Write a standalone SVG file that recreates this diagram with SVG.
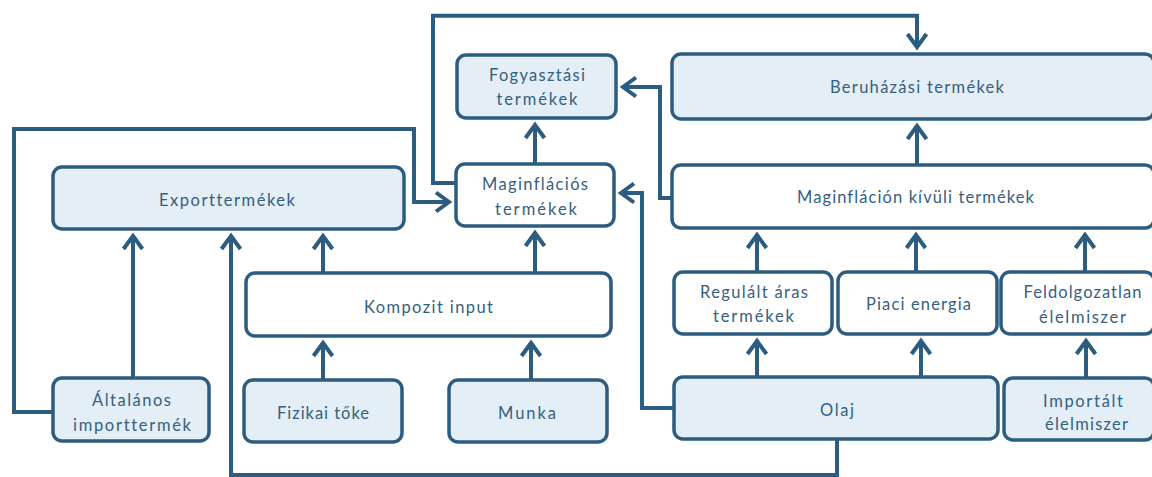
<svg xmlns="http://www.w3.org/2000/svg" width="1152" height="477" viewBox="0 0 1152 477">
<style>
.box{stroke:#2c5c7f;stroke-width:3.5;}
.lt{fill:#e3eef6;}
.wh{fill:#ffffff;}
.c{fill:none;stroke:#2c5c7f;stroke-width:4;marker-end:url(#ah);}
text{font-family:Lato,"Liberation Sans",sans-serif;font-size:16.5px;fill:#36607f;text-anchor:middle;font-variant-ligatures:none;font-feature-settings:"liga" 0;}
</style>
<defs>
<marker id="ah" markerUnits="userSpaceOnUse" markerWidth="24" markerHeight="28" refX="18" refY="14" orient="auto" overflow="visible">
<path d="M5 4.5 L18 14 L5 23.5" fill="none" stroke="#2c5c7f" stroke-width="4"/>
</marker>
</defs>
<rect width="1152" height="477" fill="#ffffff"/>
<g id="connectors">
<path class="c" d="M456 183 H433 V15.7 H917 V47"/>
<path class="c" d="M53 412 H14 V129 H414 V202 H449"/>
<path class="c" d="M133 378 V236"/>
<path class="c" d="M837 439 V475 H231 V236"/>
<path class="c" d="M323 273 V236"/>
<path class="c" d="M535 273 V233"/>
<path class="c" d="M535 164 V125"/>
<path class="c" d="M323 380 V343"/>
<path class="c" d="M531 380 V343"/>
<path class="c" d="M672 198 H660 V87 H623"/>
<path class="c" d="M674 408 H642 V193 H621"/>
<path class="c" d="M917 165 V126"/>
<path class="c" d="M757 272 V235"/>
<path class="c" d="M916 272 V235"/>
<path class="c" d="M1085 272 V235"/>
<path class="c" d="M757 377 V341"/>
<path class="c" d="M921 377 V341"/>
<path class="c" d="M1086 378 V341"/>
</g>
<g id="fogyasztasi">
<rect class="box lt" x="457" y="55" width="159" height="63" rx="9"/>
<text x="537" y="81" textLength="96" lengthAdjust="spacing">Fogyasztási</text>
<text x="537" y="105" textLength="81" lengthAdjust="spacing">termékek</text>
</g>
<g id="beruhazasi">
<rect class="box lt" x="672" y="54" width="482" height="65" rx="9"/>
<text x="917" y="93" textLength="174" lengthAdjust="spacing">Beruházási termékek</text>
</g>
<g id="maginflacios">
<rect class="box wh" x="456" y="164" width="158" height="62" rx="9"/>
<text x="535" y="190" textLength="106" lengthAdjust="spacing">Maginflációs</text>
<text x="536" y="215" textLength="82" lengthAdjust="spacing">termékek</text>
</g>
<g id="maginflacion-kivuli">
<rect class="box wh" x="672" y="165" width="482" height="63" rx="9"/>
<text x="915.5" y="203" textLength="237" lengthAdjust="spacing">Maginfláción kívüli termékek</text>
</g>
<g id="export">
<rect class="box lt" x="53" y="167" width="351" height="62" rx="9"/>
<text x="227" y="206" textLength="136" lengthAdjust="spacing">Exporttermékek</text>
</g>
<g id="kompozit">
<rect class="box wh" x="246" y="273" width="365" height="63" rx="9"/>
<text x="428.5" y="313" textLength="129" lengthAdjust="spacing">Kompozit input</text>
</g>
<g id="regulalt">
<rect class="box wh" x="674" y="272" width="158" height="62" rx="9"/>
<text x="754" y="298" textLength="108" lengthAdjust="spacing">Regulált áras</text>
<text x="753.5" y="322" textLength="81" lengthAdjust="spacing">termékek</text>
</g>
<g id="piaci">
<rect class="box wh" x="838" y="272" width="159" height="62" rx="9"/>
<text x="918.5" y="310" textLength="105" lengthAdjust="spacing">Piaci energia</text>
</g>
<g id="feldolgozatlan">
<rect class="box wh" x="1001" y="272" width="153" height="62" rx="9"/>
<text x="1082.5" y="298" textLength="118" lengthAdjust="spacing">Feldolgozatlan</text>
<text x="1082.5" y="323" textLength="87" lengthAdjust="spacing">élelmiszer</text>
</g>
<g id="altalanos">
<rect class="box lt" x="53" y="378" width="156" height="63" rx="9"/>
<text x="131.5" y="406" textLength="79" lengthAdjust="spacing">Általános</text>
<text x="132" y="431" textLength="118" lengthAdjust="spacing">importtermék</text>
</g>
<g id="fizikai">
<rect class="box lt" x="244" y="380" width="158" height="62" rx="9"/>
<text x="323" y="419" textLength="92" lengthAdjust="spacing">Fizikai tőke</text>
</g>
<g id="munka">
<rect class="box lt" x="449" y="380" width="158" height="62" rx="9"/>
<text x="527" y="419" textLength="58" lengthAdjust="spacing">Munka</text>
</g>
<g id="olaj">
<rect class="box lt" x="674" y="377" width="324" height="62" rx="9"/>
<text x="837" y="416" textLength="34" lengthAdjust="spacing">Olaj</text>
</g>
<g id="importalt">
<rect class="box lt" x="1004" y="378" width="150" height="62" rx="9"/>
<text x="1083" y="407" textLength="80" lengthAdjust="spacing">Importált</text>
<text x="1086.5" y="430" textLength="83" lengthAdjust="spacing">élelmiszer</text>
</g>
</svg>
